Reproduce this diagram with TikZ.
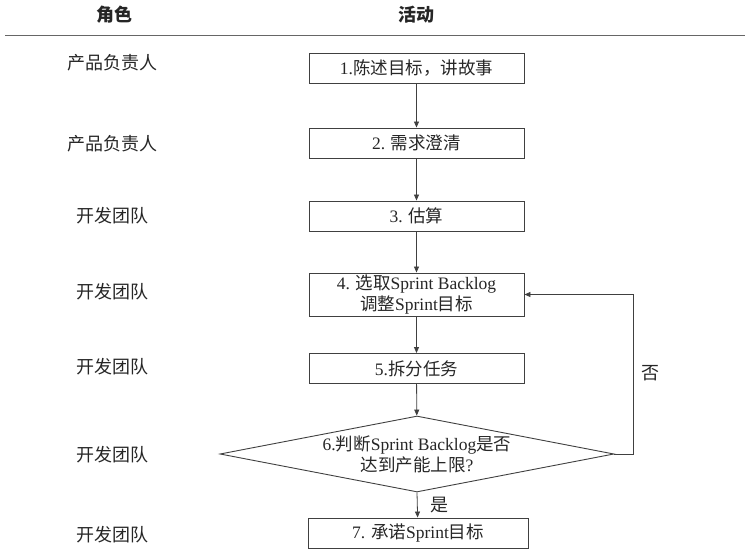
\documentclass[tikz,border=0pt]{standalone}
\usepackage{fontspec}
\setmainfont{Liberation Serif}
\newfontfamily\cjk{Noto Sans CJK SC}
\usetikzlibrary{shapes.geometric,arrows.meta}
\begin{document}
\begin{tikzpicture}[x=1pt,y=-1pt,
  every node/.style={font=\fontsize{17.5}{20}\selectfont, text=black!85},
  box/.style={draw=black!75, line width=0.9pt, minimum width=215pt, minimum height=30pt, inner sep=0pt, align=center},
  dec/.style={draw=black!75, line width=0.9pt, diamond, aspect=5.2, minimum width=394pt, minimum height=76pt, inner sep=0pt, align=center},
  role/.style={font=\fontsize{18}{20}\selectfont\cjk},
  head/.style={font=\fontsize{18}{20}\selectfont\cjk\bfseries},
  arr/.style={draw=black!75, line width=0.8pt, -{Triangle[length=6pt,width=5pt]}}]
\useasboundingbox (0,0) rectangle (748,553);
\node[head] (hr) at (114,15) {角色};
\node[head] (ha) at (416,15) {活动};
\draw[black!60, line width=1pt] (5,36) coordinate (l1) -- (745,36) coordinate (l2);

\node[role] (r1) at (112,63) {产品负责人};
\node[role] (r2) at (112,144) {产品负责人};
\node[role] (r3) at (112,216) {开发团队};
\node[role] (r4) at (112,292) {开发团队};
\node[role] (r5) at (112,367) {开发团队};
\node[role] (r6) at (112,455) {开发团队};
\node[role] (r7) at (112,535) {开发团队};

\node[box] (b1) at (416.5,68) {1.{\cjk 陈述目标，讲故事}};
\node[box] (b2) at (416.5,143) {2. {\cjk 需求澄清}};
\node[box] (b3) at (416.5,216) {3. {\cjk 估算}};
\node[box, minimum height=43pt, font=\fontsize{17.5}{21}\selectfont] (b4) at (416.5,294.5) {4. {\cjk 选取}Sprint Backlog\\{\cjk 调整}Sprint{\cjk 目标}};
\node[box] (b5) at (416.5,368.5) {5.{\cjk 拆分任务}};
\node[dec, font=\fontsize{17.5}{21}\selectfont] (d6) at (417,454) {6.{\cjk 判断}Sprint Backlog{\cjk 是否}\\{\cjk 达到产能上限}?};
\node[box, minimum width=220pt] (b7) at (418,533) {7. {\cjk 承诺}Sprint{\cjk 目标}};

\draw[arr] (b1) -- (b2);
\draw[arr] (b2) -- (b3);
\draw[arr] (b3) -- (b4);
\draw[arr] (b4) -- (b5);
\draw[arr] (b5) -- (d6);
\draw[arr] (d6.south) -- (b7);
\draw[arr] (d6.east) -- (633,454) |- (b4.east);
\node[role] (no) at (650,373) {否};
\node[role] (yes) at (439,505) {是};
\end{tikzpicture}
\end{document}
